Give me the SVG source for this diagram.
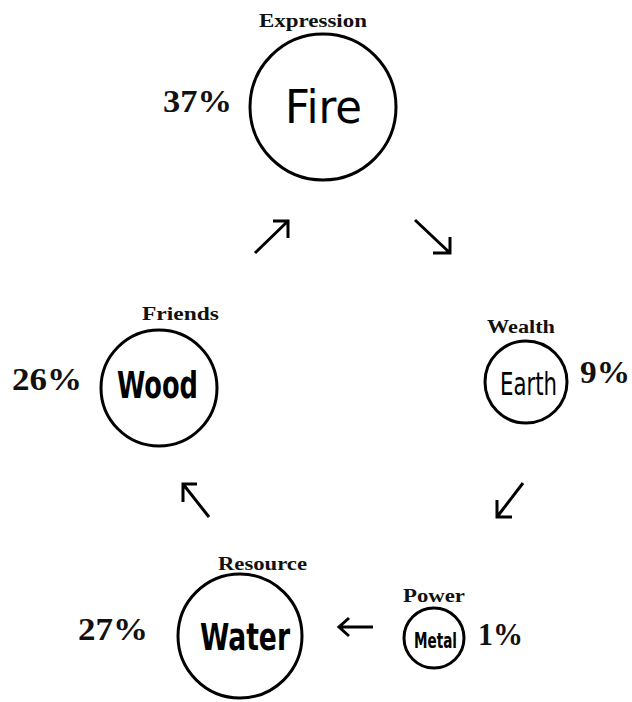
<svg xmlns="http://www.w3.org/2000/svg" width="632" height="702" viewBox="0 0 632 702">
<style>
.c{fill:none;stroke:#000;stroke-width:3}
.n{font-family:"DejaVu Sans Condensed","DejaVu Sans",sans-serif;fill:#000}
.b{font-weight:bold}
.t{font-family:"Liberation Serif","Times New Roman",serif;font-weight:bold;font-size:18px;fill:#111}
.p{font-family:"Liberation Serif","Times New Roman",serif;font-weight:bold;font-size:32px;fill:#111}
.a{fill:none;stroke:#000;stroke-width:3;stroke-linecap:butt;stroke-linejoin:miter}
</style>
<rect width="632" height="702" fill="#fff"/>
<g id="fire">
<circle class="c" cx="323" cy="107" r="73"/>
<text class="n" x="285" y="123" font-size="46" textLength="77" lengthAdjust="spacingAndGlyphs">Fire</text>
<text class="t" x="259" y="27" textLength="108" lengthAdjust="spacingAndGlyphs">Expression</text>
<text class="p" x="163" y="112" textLength="69" lengthAdjust="spacingAndGlyphs">37%</text>
</g>
<g id="wood">
<circle class="c" cx="159" cy="388" r="58"/>
<text class="n b" x="117" y="398" font-size="38" textLength="81" lengthAdjust="spacingAndGlyphs">Wood</text>
<text class="t" x="142" y="320" textLength="77" lengthAdjust="spacingAndGlyphs">Friends</text>
<text class="p" x="12" y="390" textLength="70" lengthAdjust="spacingAndGlyphs">26%</text>
</g>
<g id="earth">
<circle class="c" cx="526" cy="382" r="41"/>
<text class="n" x="500" y="395" font-size="32" textLength="57" lengthAdjust="spacingAndGlyphs">Earth</text>
<text class="t" x="487" y="333" textLength="68" lengthAdjust="spacingAndGlyphs">Wealth</text>
<text class="p" x="580" y="383" textLength="50" lengthAdjust="spacingAndGlyphs">9%</text>
</g>
<g id="water">
<circle class="c" cx="240" cy="636" r="62"/>
<text class="n b" x="200" y="650" font-size="38" textLength="90" lengthAdjust="spacingAndGlyphs">Water</text>
<text class="t" x="218" y="570" textLength="89" lengthAdjust="spacingAndGlyphs">Resource</text>
<text class="p" x="78" y="640" textLength="70" lengthAdjust="spacingAndGlyphs">27%</text>
</g>
<g id="metal">
<circle class="c" cx="434" cy="638" r="30" stroke-width="2.5"/>
<text class="n b" x="414" y="648" font-size="22" textLength="43" lengthAdjust="spacingAndGlyphs">Metal</text>
<text class="t" x="403" y="602" font-size="19" textLength="62" lengthAdjust="spacingAndGlyphs">Power</text>
<text class="p" x="478" y="645" textLength="45" lengthAdjust="spacingAndGlyphs">1%</text>
</g>
<g id="connectors">
<path class="a" d="M255,253 L288,221 M273,221 H288 V238"/>
<path class="a" d="M415,220 L450,253 M433,253 H450 V237"/>
<path class="a" d="M523,483 L497,517 M497,500 V517 H512"/>
<path class="a" d="M373,627 H339 M349,618 L339,627 L349,636"/>
<path class="a" d="M209,517 L183,484 M197,484 H183 V502"/>
</g>
</svg>
